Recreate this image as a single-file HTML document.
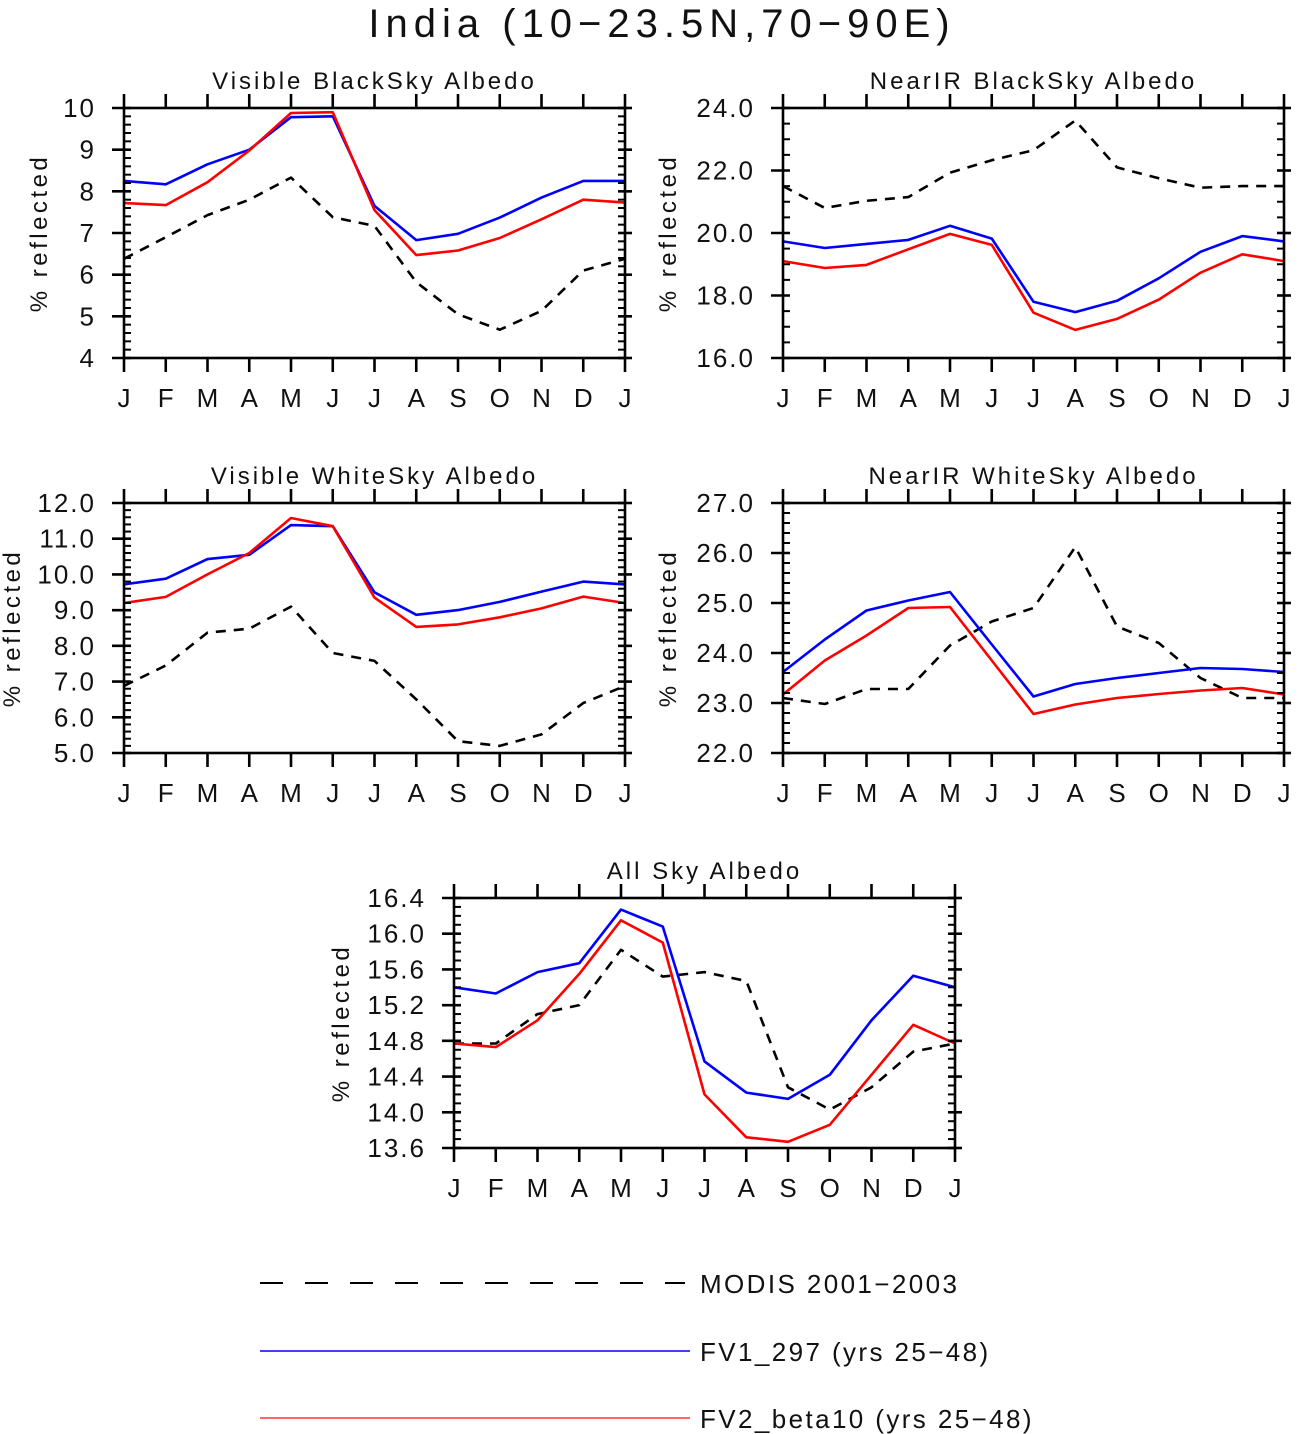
<!DOCTYPE html>
<html><head><meta charset="utf-8">
<style>
html,body{margin:0;padding:0;background:#fff;}
svg{display:block;}
text{font-family:"Liberation Sans",sans-serif;fill:#111;}
</style></head>
<body>
<svg id="c" width="1298" height="1434" viewBox="0 0 1298 1434" xmlns="http://www.w3.org/2000/svg">
<text x="662" y="37" font-size="40" text-anchor="middle" letter-spacing="6">India (10−23.5N,70−90E)</text>
</svg>
<script>
const months = ["J","F","M","A","M","J","J","A","S","O","N","D","J"];
// Panel 1: Visible BlackSky
const p1Modis = [6.38,6.9,7.43,7.8,8.33,7.38,7.17,5.82,5.05,4.68,5.13,6.1,6.38];
const p1Fv1 = [8.25,8.17,8.65,9.0,9.78,9.8,7.65,6.83,6.98,7.37,7.85,8.25,8.25];
const p1Fv2 = [7.72,7.67,8.22,8.98,9.88,9.9,7.55,6.47,6.58,6.88,7.33,7.8,7.73];
const p1Ticks = ["4","5","6","7","8","9","10"];
// Panel 2: NearIR BlackSky
const p2Modis = [21.5,20.8,21.03,21.15,21.93,22.33,22.65,23.6,22.1,21.75,21.45,21.5,21.5];
const p2Fv1 = [19.73,19.52,19.65,19.78,20.23,19.82,17.8,17.47,17.83,18.55,19.4,19.9,19.73];
const p2Fv2 = [19.1,18.88,18.98,19.48,19.97,19.62,17.45,16.9,17.25,17.87,18.73,19.32,19.1];
const p2Ticks = ["16.0","18.0","20.0","22.0","24.0"];
// Panel 3: Visible WhiteSky
const p3Modis = [6.88,7.45,8.37,8.48,9.1,7.8,7.58,6.5,5.33,5.2,5.52,6.4,6.88];
const p3Fv1 = [9.72,9.88,10.43,10.55,11.38,11.35,9.5,8.87,9.0,9.23,9.52,9.8,9.72];
const p3Fv2 = [9.2,9.37,10.0,10.6,11.58,11.35,9.35,8.53,8.6,8.8,9.05,9.38,9.2];
const p3Ticks = ["5.0","6.0","7.0","8.0","9.0","10.0","11.0","12.0"];
// Panel 4: NearIR WhiteSky
const p4Modis = [23.1,22.98,23.28,23.28,24.15,24.63,24.9,26.12,24.53,24.2,23.5,23.1,23.1];
const p4Fv1 = [23.62,24.27,24.85,25.05,25.22,24.17,23.13,23.38,23.5,23.6,23.7,23.68,23.62];
const p4Fv2 = [23.17,23.85,24.35,24.9,24.92,23.85,22.78,22.97,23.1,23.18,23.25,23.3,23.17];
const p4Ticks = ["22.0","23.0","24.0","25.0","26.0","27.0"];
// Panel 5: All Sky
const p5Modis = [14.77,14.77,15.1,15.2,15.82,15.52,15.57,15.47,14.28,14.03,14.28,14.68,14.77];
const p5Fv1 = [15.4,15.33,15.57,15.67,16.27,16.08,14.57,14.22,14.15,14.42,15.03,15.53,15.4];
const p5Fv2 = [14.77,14.73,15.03,15.55,16.15,15.9,14.2,13.72,13.67,13.86,14.42,14.98,14.77];
const p5Ticks = ["13.6","14.0","14.4","14.8","15.2","15.6","16.0","16.4"];

const NS="http://www.w3.org/2000/svg";
const svg=document.getElementById('c');
function mk(tag,attrs,parent){const e=document.createElementNS(NS,tag);for(const k in attrs)e.setAttribute(k,attrs[k]);(parent||svg).appendChild(e);return e;}

function panel(o){
  const g=mk('g',{});
  
  
  const x0=o.x,x1=o.x+501,y0=o.y,y1=o.y+250;
  const vmin=parseFloat(o.ticks[0]),vmax=parseFloat(o.ticks[o.ticks.length-1]);
  const xs=i=>x0+(x1-x0)*i/(months.length-1);
  const ys=v=>y1-(v-vmin)/(vmax-vmin)*(y1-y0);
  const ser=[[o.modis,'#000','10,8','modis-line'],[o.fv1,'#0000ff','','fv1-line'],[o.fv2,'#ff0000','','fv2-line']];
  ser.forEach(s=>{
    const pts=s[0].map((v,i)=>xs(i).toFixed(1)+','+ys(v).toFixed(1)).join(' ');
    const pl=mk('polyline',{points:pts,fill:'none',stroke:s[1],'stroke-width':2.6,'stroke-dasharray':s[2]||'none','stroke-linejoin':'round'},g);
    
    
  });
  const fr=mk('rect',{x:x0,y:y0,width:x1-x0,height:y1-y0,fill:'none',stroke:'#000','stroke-width':2.6},g);
  
  
  months.forEach((m,i)=>{
    const x=xs(i);
    mk('line',{x1:x,x2:x,y1:y1,y2:y1+14,stroke:'#000','stroke-width':2.6},g);
    mk('line',{x1:x,x2:x,y1:y0,y2:y0-14,stroke:'#000','stroke-width':2.6},g);
    const t=mk('text',{x:x,y:y1+49,'font-size':26,'text-anchor':'middle'},g);
    t.textContent=m;
    
    
  });
  const step=(vmax-vmin)/(o.ticks.length-1);
  o.ticks.forEach((lab,i)=>{
    const v=vmin+i*step,y=ys(v);
    mk('line',{x1:x0-12,x2:x0+7,y1:y,y2:y,stroke:'#000','stroke-width':2.6},g);
    mk('line',{x1:x1-7,x2:x1+7,y1:y,y2:y,stroke:'#000','stroke-width':2.6},g);
    const t=mk('text',{x:x0-28,y:y+9,'font-size':26,'text-anchor':'end','letter-spacing':2},g);
    t.textContent=lab;
    
    
    if(i<o.ticks.length-1){
      for(let k=1;k<o.sub;k++){
        const ym=ys(v+step*k/o.sub);
        mk('line',{x1:x0,x2:x0+7,y1:ym,y2:ym,stroke:'#000','stroke-width':2},g);
        mk('line',{x1:x1-7,x2:x1,y1:ym,y2:ym,stroke:'#000','stroke-width':2},g);
      }
    }
  });
  const tt=mk('text',{x:(x0+x1)/2,y:y0-19,'font-size':24,'text-anchor':'middle','letter-spacing':3},g);
  tt.textContent=o.title;
  
  
  const yl=mk('text',{x:0,y:0,'font-size':24,'text-anchor':'middle','letter-spacing':3.5,transform:'translate('+o.ylx+','+((y0+y1)/2)+') rotate(-90)'},g);
  yl.textContent='% reflected';
  
  
}
panel({name:'visible-blacksky-panel',title:'Visible BlackSky Albedo',x:124,y:108,ticks:p1Ticks,sub:5,modis:p1Modis,fv1:p1Fv1,fv2:p1Fv2,ylx:47});
panel({name:'nearir-blacksky-panel',title:'NearIR BlackSky Albedo',x:783,y:108,ticks:p2Ticks,sub:4,modis:p2Modis,fv1:p2Fv1,fv2:p2Fv2,ylx:676});
panel({name:'visible-whitesky-panel',title:'Visible WhiteSky Albedo',x:124,y:503,ticks:p3Ticks,sub:5,modis:p3Modis,fv1:p3Fv1,fv2:p3Fv2,ylx:20});
panel({name:'nearir-whitesky-panel',title:'NearIR WhiteSky Albedo',x:783,y:503,ticks:p4Ticks,sub:5,modis:p4Modis,fv1:p4Fv1,fv2:p4Fv2,ylx:676});
panel({name:'allsky-panel',title:'All Sky Albedo',x:454,y:898,ticks:p5Ticks,sub:4,modis:p5Modis,fv1:p5Fv1,fv2:p5Fv2,ylx:349});

const lg=mk('g',{});


const legItems=[['MODIS 2001−2003','#000','23,22',1283,685],['FV1_297 (yrs 25−48)','#0000ff','',1351,690],['FV2_beta10 (yrs 25−48)','#ff3333','',1418,690]];
legItems.forEach(it=>{
  const e=mk('g',{},lg);
  
  
  mk('line',{x1:260,x2:it[4],y1:it[3],y2:it[3],stroke:it[1],'stroke-width':it[2]?2:1.6,'stroke-dasharray':it[2]||'none'},e);
  const t=mk('text',{x:700,y:it[3]+10,'font-size':26,'letter-spacing':2.4},e);
  t.textContent=it[0];
});
</script>
</body></html>
